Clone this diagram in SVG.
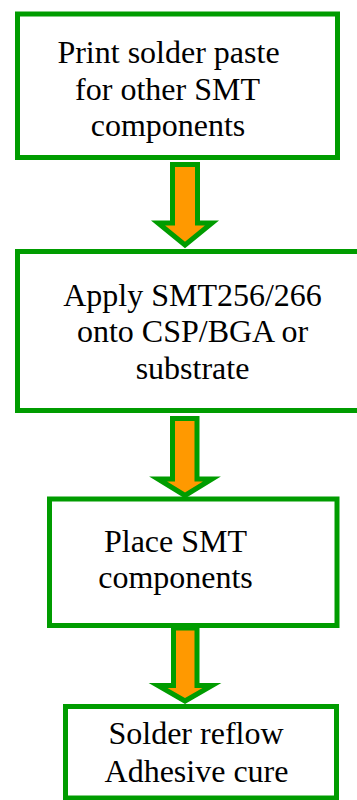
<svg xmlns="http://www.w3.org/2000/svg" width="357" height="800" viewBox="0 0 357 800">
<style>
.box{fill:#fff;stroke:#009c00;stroke-width:5}
.arr{fill:#ff9900;stroke:#009c00;stroke-width:5;stroke-linejoin:miter}
</style>
<rect width="357" height="800" fill="#fff"/>
<g id="n1">
<rect class="box" x="17.5" y="14" width="320" height="143.5"/>
<text x="168.5" y="63" text-anchor="middle" style="font-family:serif;font-size:32px">Print solder paste</text>
<text x="167.5" y="99.5" text-anchor="middle" style="font-family:serif;font-size:32px">for other SMT</text>
<text x="168" y="136" text-anchor="middle" style="font-family:serif;font-size:32px">components</text>
</g>
<g id="n2">
<rect class="box" x="17.5" y="251.5" width="360" height="159"/>
<text x="192.5" y="305.5" text-anchor="middle" style="font-family:serif;font-size:32px">Apply SMT256/266</text>
<text x="192.5" y="342" text-anchor="middle" style="font-family:serif;font-size:32px">onto CSP/BGA or</text>
<text x="192.5" y="378.5" text-anchor="middle" style="font-family:serif;font-size:32px">substrate</text>
</g>
<g id="n3">
<rect class="box" x="49.5" y="499" width="287.5" height="126.5"/>
<text x="175.5" y="551.7" text-anchor="middle" style="font-family:serif;font-size:32px">Place SMT</text>
<text x="175.5" y="588.3" text-anchor="middle" style="font-family:serif;font-size:32px">components</text>
</g>
<g id="n4">
<rect class="box" x="65.5" y="706.5" width="271" height="91.5"/>
<text x="196" y="744.3" text-anchor="middle" style="font-family:serif;font-size:32px">Solder reflow</text>
<text x="196.5" y="781.7" text-anchor="middle" style="font-family:serif;font-size:32px">Adhesive cure</text>
</g>
<g id="connectors">
<polygon class="arr" points="172.5,164.5 197.5,164.5 197.5,223 212,223 185,245 158,223 172.5,223"/>
<polygon class="arr" points="172.5,418.5 197,418.5 197,479 212,479 185,495.5 158,479 172.5,479"/>
<polygon class="arr" points="173.5,628 197,628 197,685.5 212,685.5 185,701 158,685.5 173.5,685.5"/>
</g>
</svg>
